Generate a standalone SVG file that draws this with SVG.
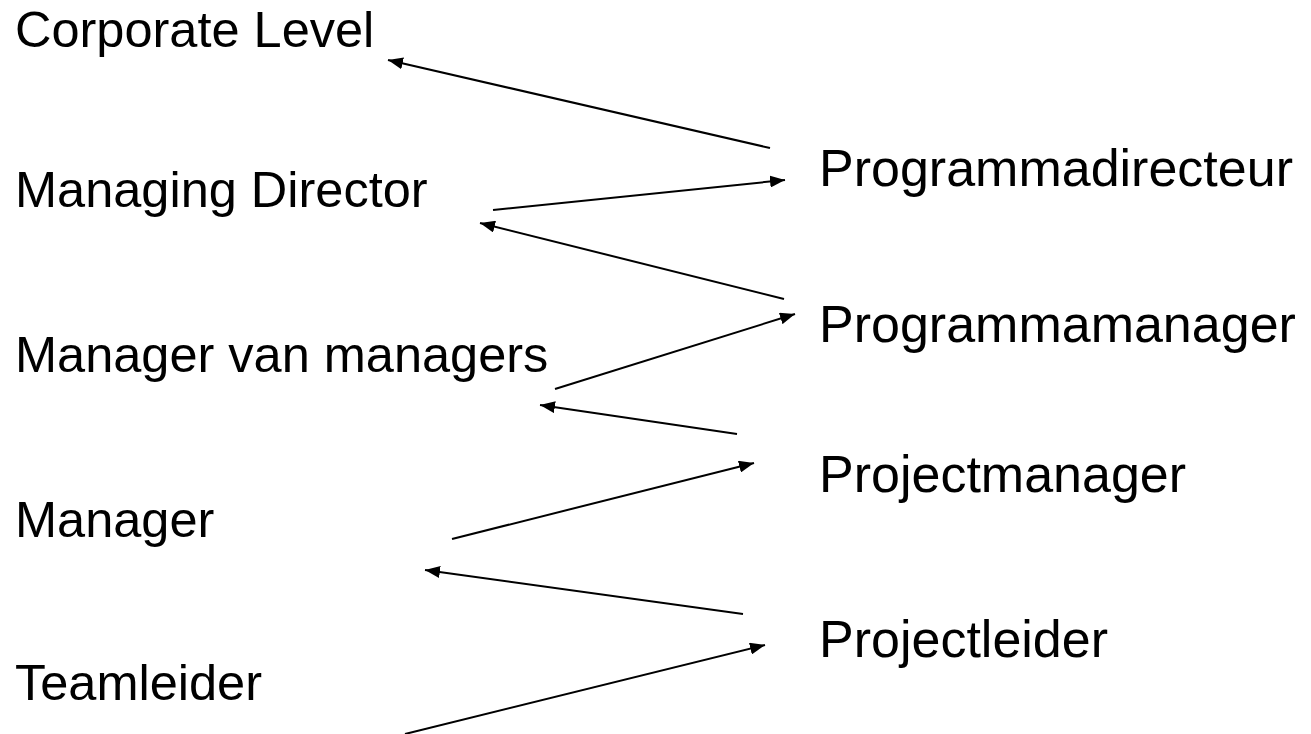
<svg xmlns="http://www.w3.org/2000/svg" width="1311" height="734" viewBox="0 0 1311 734">
  <style>
    .lbl { font-family: "Liberation Sans", Arial, sans-serif; font-size: 50.5px; fill: #000; }
    .role { font-size: 52px; }
    .conn { stroke: #000; stroke-width: 2; fill: none; marker-end: url(#arrow); }
  </style>
  <defs>
    <marker id="arrow" markerUnits="userSpaceOnUse" markerWidth="16" markerHeight="12" refX="15" refY="6" orient="auto">
      <path d="M0,0 L15,6 L0,12 z" fill="#000"/>
    </marker>
  </defs>
  <rect width="1311" height="734" fill="#fff"/>

  <!-- line organisation levels -->
  <g id="corporate-level"><text class="lbl" x="15" y="47">Corporate Level</text></g>
  <g id="managing-director"><text class="lbl" x="15" y="207">Managing Director</text></g>
  <g id="manager-van-managers"><text class="lbl" x="15" y="372">Manager van managers</text></g>
  <g id="manager"><text class="lbl" x="15" y="537">Manager</text></g>
  <g id="teamleider"><text class="lbl" x="15" y="700">Teamleider</text></g>

  <!-- programme / project roles -->
  <g id="programmadirecteur"><text class="lbl role" x="819" y="186">Programmadirecteur</text></g>
  <g id="programmamanager"><text class="lbl role" x="819" y="342">Programmamanager</text></g>
  <g id="projectmanager"><text class="lbl role" x="819" y="492">Projectmanager</text></g>
  <g id="projectleider"><text class="lbl role" x="819" y="657">Projectleider</text></g>

  <g id="connectors">
    <line class="conn" x1="770" y1="148" x2="388" y2="60"/>
    <line class="conn" x1="493" y1="210" x2="785" y2="180"/>
    <line class="conn" x1="784" y1="299" x2="480" y2="223"/>
    <line class="conn" x1="555" y1="389" x2="795" y2="314"/>
    <line class="conn" x1="737" y1="434" x2="540" y2="405"/>
    <line class="conn" x1="452" y1="539" x2="754" y2="463"/>
    <line class="conn" x1="743" y1="614" x2="425" y2="570"/>
    <line class="conn" x1="405" y1="734" x2="765" y2="645"/>
  </g>
</svg>
